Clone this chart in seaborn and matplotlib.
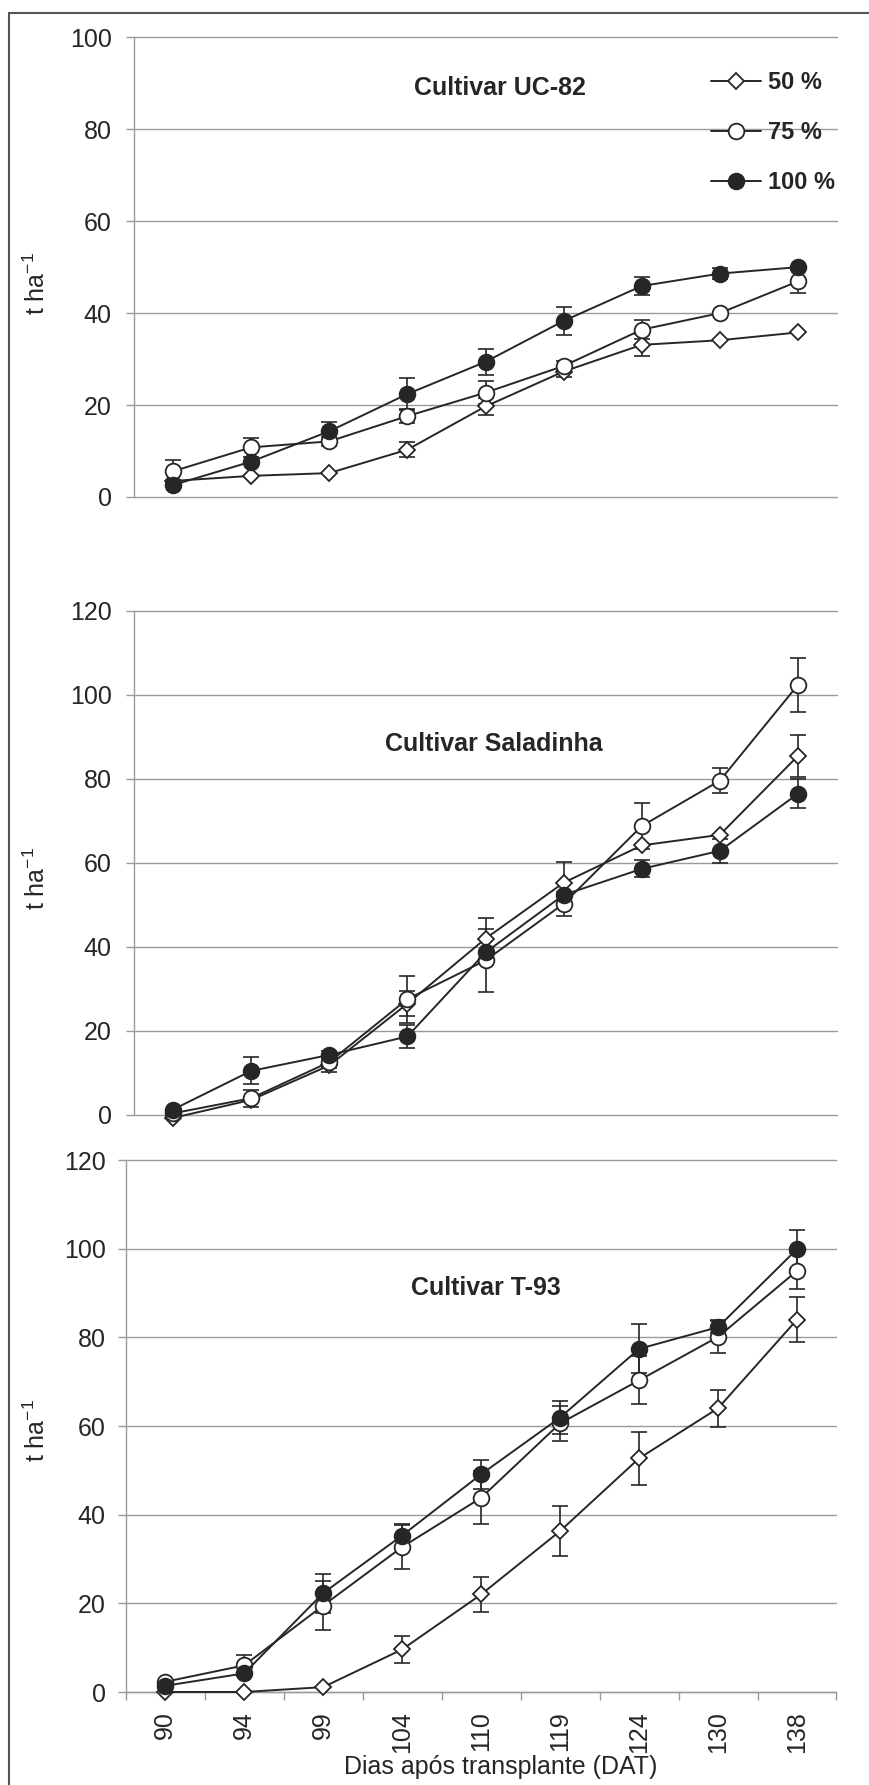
import numpy as np
import matplotlib
matplotlib.use('Agg')
import matplotlib.pyplot as plt
import seaborn as sns
from matplotlib.patches import Rectangle

# DATA
days = [90, 94, 99, 104, 110, 119, 124, 130, 138]
series_labels = ['50 %', '75 %', '100 %']

# Cultivar UC-82
uc_50 = [3.5, 4.6, 5.2, 10.3, 19.7, 27.3, 33.1, 34.1, 35.8]
uc_50_err = [0, 0, 0, 1.6, 1.8, 1.2, 2.4, 0, 0]
uc_75 = [5.6, 10.8, 12.1, 17.6, 22.7, 28.5, 36.4, 40.0, 46.9]
uc_75_err = [2.5, 2.0, 1.0, 1.5, 2.5, 1.0, 2.0, 0, 2.5]
uc_100 = [2.6, 7.7, 14.3, 22.4, 29.4, 38.3, 45.9, 48.6, 50.0]
uc_100_err = [0, 0, 2.0, 3.4, 2.9, 3.0, 2.0, 1.2, 0]

# Cultivar Saladinha
sa_50 = [-0.7, 3.6, 11.8, 26.5, 42.0, 55.3, 64.2, 66.7, 85.5]
sa_50_err = [0, 0, 1.5, 3.0, 4.8, 5.0, 0, 0, 5.0]
sa_75 = [0.4, 4.0, 12.6, 27.6, 36.8, 50.3, 68.8, 79.6, 102.4]
sa_75_err = [0, 2.0, 1.5, 5.6, 7.4, 2.8, 5.4, 3.0, 6.5]
sa_100 = [1.3, 10.5, 14.3, 18.7, 38.7, 52.4, 58.6, 62.9, 76.5]
sa_100_err = [0, 3.2, 1.0, 2.7, 0, 0, 2.0, 2.8, 3.5]

# Cultivar T-93
t93_50 = [0, 0, 1.1, 9.6, 22.0, 36.3, 52.7, 64.0, 84.0]
t93_50_err = [0, 0, 0, 3.0, 4.0, 5.6, 5.9, 4.2, 5.0]
t93_75 = [2.3, 6.0, 19.5, 32.7, 43.8, 60.6, 70.3, 80.1, 95.0]
t93_75_err = [0, 2.4, 5.6, 5.0, 6.0, 4.0, 5.4, 3.7, 4.0]
t93_100 = [1.4, 4.2, 22.3, 35.3, 49.1, 61.9, 77.4, 82.3, 99.9]
t93_100_err = [0, 0, 4.4, 2.5, 3.2, 3.7, 5.5, 1.4, 4.4]

sns.set_style('white')
plt.rcParams['font.family'] = ['Liberation Sans', 'DejaVu Sans']
plt.rcParams['mathtext.fontset'] = 'custom'
plt.rcParams['mathtext.rm'] = 'Liberation Sans'

W, H = 869, 1785
fig = plt.figure(figsize=(W / 100, H / 100), dpi=100)

ink = '#262626'
grid_c = '#9a9a9a'

# marker, face colour, size per series
styles = [('D', 'white', 8.3), ('o', 'white', 11.3), ('o', ink, 11.3)]


def px_axes(l, r, top, bot):
    return fig.add_axes([l / W, 1 - bot / H, (r - l) / W, (bot - top) / H])


def draw_panel(ax, vals, errs, ymax, legend=False):
    x = np.arange(len(days))
    for lab, (mk, fc, ms), v, e in zip(series_labels, styles, vals, errs):
        ax.errorbar(x, v, yerr=e, fmt='none', ecolor=ink, elinewidth=1.2,
                    capsize=6, capthick=1.2, zorder=2, clip_on=False)
        sns.lineplot(x=x, y=v, ax=ax, color=ink, marker=mk, markersize=ms,
                     markerfacecolor=fc, markeredgecolor=ink, markeredgewidth=1.3,
                     linewidth=1.4, label=lab if legend else None, legend=False,
                     zorder=3, clip_on=False)
    ax.set_xlabel('')
    ax.set_ylabel('')
    ax.set_xlim(-0.5, len(days) - 0.5)
    ax.set_ylim(0, ymax)
    ax.set_yticks(range(0, ymax + 1, 20))
    ax.yaxis.grid(True, color=grid_c, lw=1)
    for gl in ax.get_ygridlines():
        gl.set_clip_on(False)
    ax.xaxis.grid(False)
    ax.set_axisbelow(True)
    for s in ['top', 'right']:
        ax.spines[s].set_visible(False)
    ax.spines['left'].set_color(grid_c)
    ax.spines['left'].set_linewidth(1)
    ax.tick_params(axis='y', length=6, width=1, color=grid_c, direction='out',
                   labelsize=18, pad=10, labelcolor=ink, left=True)


# PANEL 1
ax1 = px_axes(134, 837, 37.3, 497)
draw_panel(ax1, [uc_50, uc_75, uc_100], [uc_50_err, uc_75_err, uc_100_err], 100, legend=True)
ax1.set_xticks([])
ax1.spines['bottom'].set_visible(False)
h, l = ax1.get_legend_handles_labels()
ax1.legend(h, l, loc='upper left', bbox_to_anchor=(711 / W, 1 - 71 / H),
           bbox_transform=fig.transFigure, frameon=False,
           prop={'weight': 'bold', 'size': 17}, labelcolor=ink,
           handlelength=2.1, handletextpad=0.3, labelspacing=1.15,
           borderpad=0, borderaxespad=0, numpoints=1)

# PANEL 2
ax2 = px_axes(134, 837, 611, 1115)
draw_panel(ax2, [sa_50, sa_75, sa_100], [sa_50_err, sa_75_err, sa_100_err], 120)
ax2.set_xticks([])
ax2.spines['bottom'].set_visible(False)

# PANEL 3
ax3 = px_axes(125.7, 836.5, 1160, 1692)
draw_panel(ax3, [t93_50, t93_75, t93_100], [t93_50_err, t93_75_err, t93_100_err], 120)
ax3.tick_params(axis='y', pad=8.5)
ax3.set_xticks(np.arange(len(days)))
ax3.set_xticklabels([str(d) for d in days], rotation=90)
ax3.set_xticks(np.arange(-0.5, len(days)), minor=True)
ax3.tick_params(axis='x', which='major', length=0, pad=14, labelsize=18, labelcolor=ink)
ax3.tick_params(axis='x', which='minor', length=6, width=1, color=grid_c,
                direction='out', bottom=True)
ax3.spines['bottom'].set_color(grid_c)
ax3.spines['bottom'].set_linewidth(1)

# titles inside panels
fig.text(500 / W, 1 - 95 / H, 'Cultivar UC-82', ha='center', va='baseline',
         fontsize=18, fontweight='bold', color=ink)
fig.text(494 / W, 1 - 751 / H, 'Cultivar Saladinha', ha='center', va='baseline',
         fontsize=18, fontweight='bold', color=ink)
fig.text(486 / W, 1 - 1295 / H, 'Cultivar T-93', ha='center', va='baseline',
         fontsize=18, fontweight='bold', color=ink)

# y labels
for yc in [283, 878, 1430]:
    fig.text(37 / W, 1 - yc / H, 't ha$\\mathregular{^{-1}}$', rotation=90,
             ha='center', va='center', fontsize=18, color=ink)

fig.text(501 / W, 1 - 1767 / H, 'Dias após transplante (DAT)', ha='center',
         va='center', fontsize=18, color=ink)

# outer frame (only left and top edges fall inside the picture)
fig.patches.append(Rectangle((9 / W, -0.05), 1.1, 1.05 - 13 / H,
                             transform=fig.transFigure, fill=False, ec='#555555', lw=1.5))

fig.savefig('out.png', dpi=100)
